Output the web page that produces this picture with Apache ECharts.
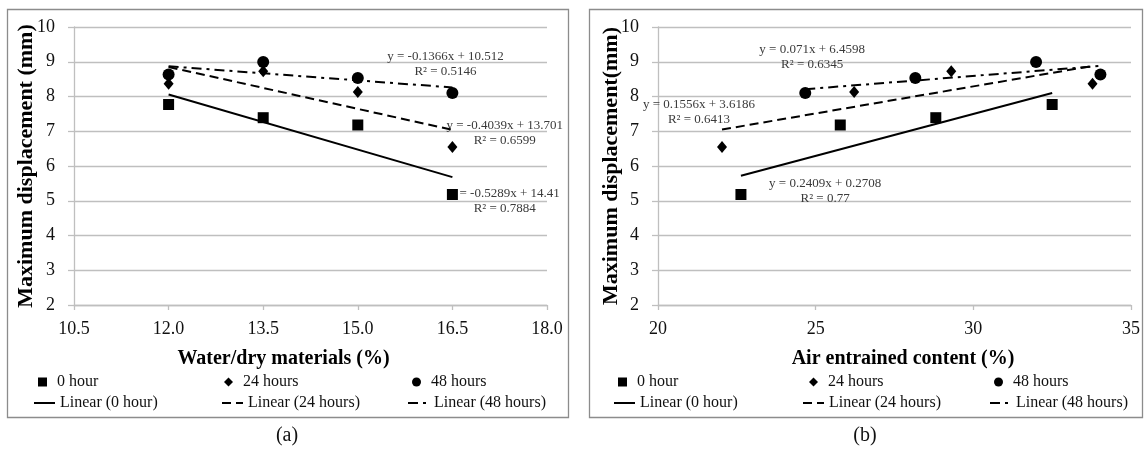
<!DOCTYPE html>
<html><head><meta charset="utf-8">
<script src="https://cdn.jsdelivr.net/npm/echarts@6/dist/echarts.min.js"></script>
<style>html,body{margin:0;padding:0;background:#fff}#c{width:1145px;height:449px}</style>
</head><body><div id="c"></div><script>
// ---------- data ----------
const seriesNames = ['0 hour', '24 hours', '48 hours'];
const trendNames = ['Linear (0 hour)', 'Linear (24 hours)', 'Linear (48 hours)'];
const waterDry = [12.0, 13.5, 15.0, 16.5];
const disp0h = [7.77, 7.39, 7.18, 5.18];
const disp24h = [8.37, 8.73, 8.13, 6.55];
const disp48h = [8.63, 8.99, 8.53, 8.10];
const air0h = [32.50, 28.81, 25.78, 22.63];
const air24h = [33.78, 29.30, 26.22, 22.03];
const air48h = [34.03, 31.99, 28.16, 24.67];
// trend line end points
const trendA0h = [[12.0, 8.06], [16.5, 5.68]];
const trendA24h = [[12.0, 8.85], [16.5, 7.04]];
const trendA48h = [[12.0, 8.87], [16.5, 8.26]];
const trendB0h = [[22.63, 5.72], [32.50, 8.10]];
const trendB24h = [[22.03, 7.05], [33.78, 8.88]];
const trendB48h = [[24.67, 8.21], [34.03, 8.88]];
const eqA = ['y = -0.5289x + 14.41\nR² = 0.7884', 'y = -0.4039x + 13.701\nR² = 0.6599', 'y = -0.1366x + 10.512\nR² = 0.5146'];
const eqB = ['y = 0.2409x + 0.2708\nR² = 0.77', 'y = 0.1556x + 3.6186\nR² = 0.6413', 'y = 0.071x + 6.4598\nR² = 0.6345'];
const xTicksA = [10.5, 12.0, 13.5, 15.0, 16.5, 18.0];
const xTicksB = [20, 25, 30, 35];
const yTicks = [2, 3, 4, 5, 6, 7, 8, 9, 10];
const xTitleA = 'Water/dry materials (%)';
const xTitleB = 'Air entrained content (%)';
const yTitleA = 'Maximum displacement (mm)';
const yTitleB = 'Maximum displacement(mm)';
const captions = ['(a)', '(b)'];

// ---------- styles / layout ----------
const FONT = '"Liberation Serif", "Times New Roman", serif';
const symbols = ['rect', 'diamond', 'circle'];
const symbolSizes = [11, [10, 12], 12];
const dashes = ['solid', [9, 5], [10, 5, 3, 5]];
const eqPosA = [[17.33, 5.0], [17.33, 6.96], [16.39, 8.94]];
const eqPosB = [[25.3, 5.27], [21.3, 7.55], [24.89, 9.14]];

function pairs(xs, ys) { return xs.map((x, i) => [x, ys[i]]); }
const scatterA = [pairs(waterDry, disp0h), pairs(waterDry, disp24h), pairs(waterDry, disp48h)];
const scatterB = [pairs(air0h, disp0h), pairs(air24h, disp24h), pairs(air48h, disp48h)];
const trendA = [trendA0h, trendA24h, trendA48h];
const trendB = [trendB0h, trendB24h, trendB48h];

const grids = [
  { left: 74, top: 27, width: 473, height: 278 },
  { left: 658, top: 27, width: 473, height: 278 }
];
const axisGrey = '#bfbfbf';
function xAxis(idx, ticks, name, fmt, pad) {
  return {
    type: 'value', gridIndex: idx, min: ticks[0], max: ticks[ticks.length - 1],
    interval: ticks[1] - ticks[0],
    name: name, nameLocation: 'middle', nameGap: 44,
    nameTextStyle: { fontFamily: FONT, fontWeight: 'bold', fontSize: 20, color: '#000', padding: pad },
    axisLine: { show: true, lineStyle: { color: axisGrey, width: 1.3 } },
    axisTick: { show: true, length: 5, lineStyle: { color: axisGrey, width: 1.3 } },
    splitLine: { show: false },
    axisLabel: { fontFamily: FONT, fontSize: 18, color: '#111', margin: 15, formatter: fmt }
  };
}
function yAxis(idx, name, gap) {
  return {
    type: 'value', gridIndex: idx, min: yTicks[0], max: yTicks[yTicks.length - 1], interval: 1,
    name: name, nameLocation: 'middle', nameGap: gap, nameRotate: 90, nameMoveOverlap: false,
    nameTextStyle: { fontFamily: FONT, fontWeight: 'bold', fontSize: 22, color: '#000' },
    axisLine: { show: true, lineStyle: { color: axisGrey, width: 1.3 } },
    axisTick: { show: true, length: 6, lineStyle: { color: axisGrey, width: 1.3 } },
    splitLine: { show: true, lineStyle: { color: axisGrey, width: 1.3 } },
    axisLabel: { fontFamily: FONT, fontSize: 18, color: '#111', margin: 19 }
  };
}

const series = [];
[[scatterA, trendA, eqA, eqPosA], [scatterB, trendB, eqB, eqPosB]].forEach(([sc, tr, eq, pos], g) => {
  for (let i = 0; i < 3; i++) {
    series.push({
      type: 'line', name: trendNames[i], xAxisIndex: g, yAxisIndex: g, data: tr[i],
      symbol: 'none', showSymbol: false, z: 2, silent: true,
      lineStyle: { color: '#000', width: 2, type: dashes[i] },
      itemStyle: { color: '#000' },
      markPoint: {
        z: 1, silent: true, symbol: 'circle', symbolSize: 0,
        label: { show: true, position: 'inside', fontFamily: FONT, fontSize: 13, color: '#3a3a3a', lineHeight: 15, align: 'center' },
        data: [{ coord: pos[i], label: { formatter: eq[i] } }]
      }
    });
  }
  for (let i = 0; i < 3; i++) {
    series.push({
      type: 'scatter', name: seriesNames[i], xAxisIndex: g, yAxisIndex: g, data: sc[i],
      symbol: symbols[i], symbolSize: symbolSizes[i], z: 5,
      itemStyle: { color: '#000', opacity: 1 }
    });
  }
});

// legends: one component per item
const legendRow1Lefts = [[38, 224, 412], [618, 809, 994]];
const legendRow2Lefts = [[33, 221, 407], [613, 802, 989]];
const legends = [];
for (let g = 0; g < 2; g++) {
  for (let i = 0; i < 3; i++) {
    legends.push({
      data: [seriesNames[i]], left: legendRow1Lefts[g][i], top: 374, orient: 'horizontal',
      itemWidth: 9, itemHeight: 9, padding: 0, selectedMode: false,
      itemStyle: { opacity: 1 },
      textStyle: { fontFamily: FONT, fontSize: 16, color: '#111', padding: [0, 0, 0, 5] }
    });
    legends.push({
      data: [trendNames[i]], left: legendRow2Lefts[g][i], top: 395, orient: 'horizontal',
      itemWidth: 21, itemHeight: 10, padding: 0, selectedMode: false,
      lineStyle: { width: 2 }, itemStyle: { opacity: 0 },
      textStyle: { fontFamily: FONT, fontSize: 16, color: '#111' }
    });
  }
}

const option = {
  animation: false,
  backgroundColor: '#fff',
  grid: grids,
  xAxis: [xAxis(0, xTicksA, xTitleA, v => v.toFixed(1), [0, 54, 0, 0]), xAxis(1, xTicksB, xTitleB, v => String(v), [0, 0, 0, 17])],
  yAxis: [yAxis(0, yTitleA, 37), yAxis(1, yTitleB, 36)],
  legend: legends,
  series: series,
  graphic: [
    { type: 'rect', shape: { x: 7.5, y: 9.5, width: 561, height: 408 }, style: { fill: 'none', stroke: '#8c8c8c', lineWidth: 1.3 }, silent: true },
    { type: 'rect', shape: { x: 589.5, y: 9.5, width: 553, height: 408 }, style: { fill: 'none', stroke: '#8c8c8c', lineWidth: 1.3 }, silent: true },
    { type: 'text', x: 287, y: 436, style: { text: captions[0], fontFamily: FONT, fontSize: 20, fill: '#111', textAlign: 'center', textVerticalAlign: 'middle' }, silent: true },
    { type: 'text', x: 865, y: 436, style: { text: captions[1], fontFamily: FONT, fontSize: 20, fill: '#111', textAlign: 'center', textVerticalAlign: 'middle' }, silent: true }
  ]
};
const chart = echarts.init(document.getElementById('c'), null, { renderer: 'canvas' });
chart.setOption(option);
</script></body></html>
